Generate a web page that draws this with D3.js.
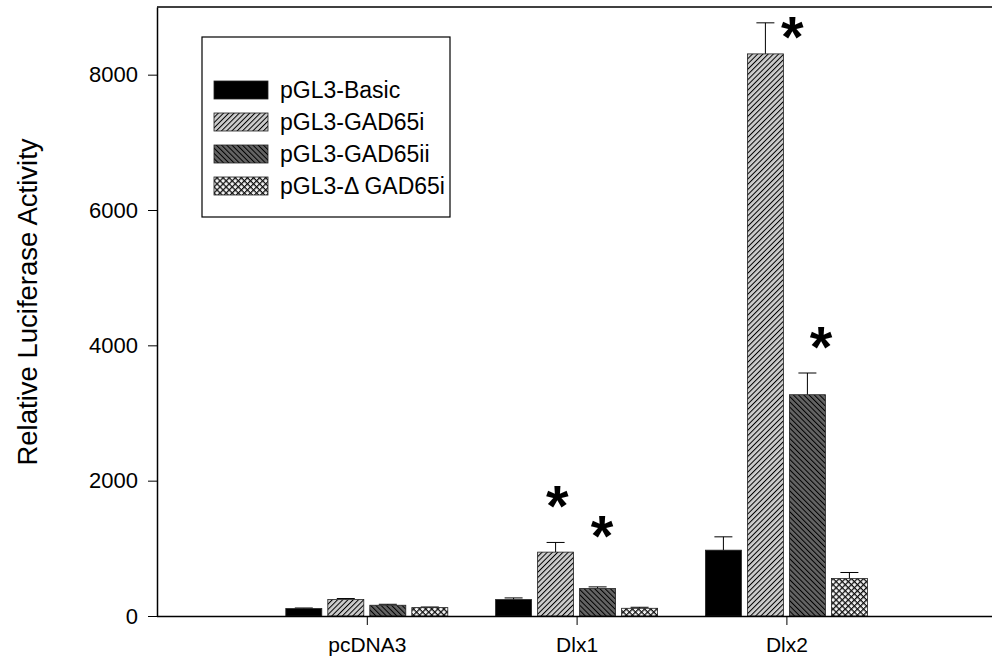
<!DOCTYPE html>
<html>
<head>
<meta charset="utf-8">
<script src="https://cdn.jsdelivr.net/npm/d3@7"></script>
<style>
  html, body { margin: 0; background: #fff; overflow: hidden; }
  svg { display: block; }
  text { font-family: Arial, "Liberation Sans", sans-serif; fill: #000; }
</style>
</head>
<body>
<div id="chart"></div>
<script>
const categories = ['pcDNA3', 'Dlx1', 'Dlx2'];
const seriesNames = ['pGL3-Basic', 'pGL3-GAD65i', 'pGL3-GAD65ii', 'pGL3-\u0394 GAD65i'];
// mean values per series, one per category
const basicVals = [110, 243, 973];
const gad65iVals = [243, 944, 8307];
const gad65iiVals = [159, 406, 3270];
const deltaVals = [124, 114, 554];
// upper error (SE) per series
const basicErr = [8, 24, 197];
const gad65iErr = [15, 143, 459];
const gad65iiErr = [14, 24, 321];
const deltaErr = [9, 15, 89];
const yTicks = [0, 2000, 4000, 6000, 8000];
// asterisks: [category index, series index, y value, x shift in bar widths]
const stars = [[1, 1, 1714, 0.05], [1, 2, 1270, 0.12], [2, 1, 8652, 0.75], [2, 2, 4059, 0.38]];

const values = [basicVals, gad65iVals, gad65iiVals, deltaVals];
const errors = [basicErr, gad65iErr, gad65iiErr, deltaErr];

const W = 992, H = 671;
const svg = d3.select('#chart').append('svg')
  .attr('width', W).attr('height', H);

const defs = svg.append('defs');

function hatch(id, bg, angle) {
  const p = defs.append('pattern')
    .attr('id', id)
    .attr('patternUnits', 'userSpaceOnUse')
    .attr('width', 3.7).attr('height', 10)
    .attr('patternTransform', `rotate(${angle})`);
  p.append('rect').attr('width', 3.7).attr('height', 10).attr('fill', bg);
  p.append('line').attr('x1', 0.5).attr('x2', 0.5).attr('y1', 0).attr('y2', 10)
    .attr('stroke', '#000').attr('stroke-width', 1);
}
hatch('hatchFwd', '#cdcdcd', 45);
hatch('hatchBack', '#646464', -45);

const cross = defs.append('pattern')
  .attr('id', 'crossHatch')
  .attr('patternUnits', 'userSpaceOnUse')
  .attr('width', 4.3).attr('height', 4.3)
  .attr('patternTransform', 'rotate(45)');
cross.append('rect').attr('width', 4.3).attr('height', 4.3).attr('fill', '#f2f2f2');
cross.append('line').attr('x1', 0).attr('x2', 4.3).attr('y1', 0.6).attr('y2', 0.6)
  .attr('stroke', '#111').attr('stroke-width', 1.3);
cross.append('line').attr('x1', 0.6).attr('x2', 0.6).attr('y1', 0).attr('y2', 4.3)
  .attr('stroke', '#111').attr('stroke-width', 1.3);

const fills = ['#000', 'url(#hatchFwd)', 'url(#hatchBack)', 'url(#crossHatch)'];

const plotLeft = 157, plotTop = 7, plotBottom = 616;

// category positions 1..3; the frame runs off the right edge of the page
const x = d3.scaleLinear().domain([0, 4]).range([plotLeft, plotLeft + 4 * 209.8]);
const inner = d3.scaleBand().domain(d3.range(4)).range([-81, 81]).paddingInner(0.143);
const y = d3.scaleLinear().domain([0, 9000]).range([plotBottom, plotTop]);

// frame: top line
svg.append('line')
  .attr('x1', plotLeft).attr('x2', W + 20).attr('y1', plotTop).attr('y2', plotTop)
  .attr('stroke', '#000').attr('stroke-width', 1.5);

// bars
const barData = [];
values.forEach((vals, s) => vals.forEach((v, c) => barData.push({ s, c, v, e: errors[s][c] })));

const bw = inner.bandwidth();
svg.append('g').selectAll('line')
  .data(barData)
  .join('line')
  .attr('x1', d => x(d.c + 1) + inner(d.s) + bw / 2)
  .attr('x2', d => x(d.c + 1) + inner(d.s) + bw / 2)
  .attr('y1', d => y(d.v))
  .attr('y2', d => y(d.v + d.e))
  .attr('stroke', '#000').attr('stroke-width', 1);
svg.append('g').selectAll('line')
  .data(barData)
  .join('line')
  .attr('x1', d => x(d.c + 1) + inner(d.s) + bw / 2 - 9)
  .attr('x2', d => x(d.c + 1) + inner(d.s) + bw / 2 + 9)
  .attr('y1', d => y(d.v + d.e))
  .attr('y2', d => y(d.v + d.e))
  .attr('stroke', '#000').attr('stroke-width', 1);

svg.append('g').selectAll('rect')
  .data(barData)
  .join('rect')
  .attr('x', d => x(d.c + 1) + inner(d.s))
  .attr('y', d => y(d.v))
  .attr('width', bw)
  .attr('height', d => y(0) - y(d.v))
  .attr('fill', d => fills[d.s])
  .attr('stroke', '#222').attr('stroke-width', 0.8);

// asterisks
svg.append('g').selectAll('text')
  .data(stars)
  .join('text')
  .attr('x', d => x(d[0] + 1) + inner(d[1]) + bw / 2 + d[3] * bw)
  .attr('y', d => y(d[2]) + 26)
  .attr('text-anchor', 'middle')
  .attr('font-size', 58)
  .attr('font-weight', 'bold')
  .text('*');

// y axis
const yAxis = svg.append('g')
  .attr('transform', `translate(${plotLeft},0)`)
  .call(d3.axisLeft(y).tickValues(yTicks).tickFormat(d3.format('d'))
    .tickSize(9).tickPadding(10).tickSizeOuter(0));
yAxis.select('.domain').attr('stroke-width', 1.5);
yAxis.selectAll('.tick text').attr('font-size', 22).attr('font-family', 'Arial, "Liberation Sans", sans-serif');

// x axis (domain drawn as a plain line so nothing shows at the clipped end)
const xAxis = svg.append('g')
  .attr('transform', `translate(0,${plotBottom})`)
  .call(d3.axisBottom(x).tickValues([1, 2, 3]).tickSize(9).tickPadding(12).tickSizeOuter(0)
    .tickFormat(d => categories[d - 1]));
xAxis.select('.domain').remove();
xAxis.append('line')
  .attr('x1', plotLeft).attr('x2', W + 20).attr('y1', 0.5).attr('y2', 0.5)
  .attr('stroke', '#000').attr('stroke-width', 1.5);
xAxis.selectAll('.tick text').attr('font-size', 21).attr('font-family', 'Arial, "Liberation Sans", sans-serif');

// y title
svg.append('text')
  .attr('transform', `translate(37,302) rotate(-90)`)
  .attr('text-anchor', 'middle')
  .attr('font-size', 27.5)
  .text('Relative Luciferase Activity');

// legend
const lg = svg.append('g').attr('transform', 'translate(202,37)');
lg.append('rect')
  .attr('width', 248).attr('height', 180)
  .attr('fill', '#fff').attr('stroke', '#000').attr('stroke-width', 1.2);
const rows = lg.selectAll('g.row')
  .data(seriesNames)
  .join('g')
  .attr('class', 'row')
  .attr('transform', (d, i) => `translate(12,${53 + i * 32})`);
rows.append('rect')
  .attr('y', -9).attr('width', 54).attr('height', 18)
  .attr('fill', (d, i) => fills[i])
  .attr('stroke', '#222').attr('stroke-width', 0.8);
rows.append('text')
  .attr('x', 66).attr('y', 8)
  .attr('font-size', 23)
  .text(d => d);
</script>
</body>
</html>
